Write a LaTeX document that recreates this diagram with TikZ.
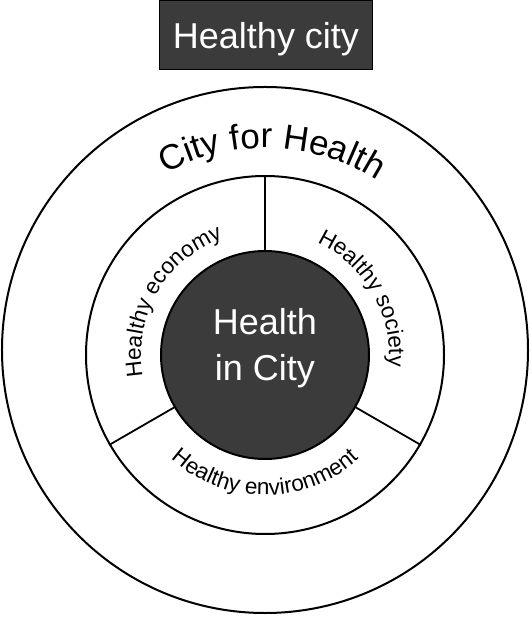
\documentclass[tikz,border=0pt]{standalone}
\usepackage{fontspec}
\setmainfont{Liberation Sans}
\usetikzlibrary{decorations.text}
\newcommand{\arclabel}{\fontsize{22.5}{26}\selectfont}
\newcommand{\ringlabel}{\fontsize{35}{40}\selectfont}

\begin{document}
\begin{tikzpicture}[x=1pt,y=1pt,
	disc/.style={circle, draw, line width=2pt, inner sep=0pt},
	darkbox/.style={fill=black!77, text=white, font=\fontsize{36}{46}\selectfont},
	divider/.style={line width=1.8pt},
	arctext/.style={decorate, decoration={text along path, text align=center, text={#1}}}]
	\useasboundingbox (-265,-262) rectangle (266,355);

	\node[darkbox, draw=black, line width=1pt, minimum width=212pt, minimum height=69pt, inner sep=0pt, text depth=0pt](title) at (1,319.5) {Healthy city};

	\node[disc, minimum size=526pt](outer) at (0,5) {};
	\node[disc, minimum size=358pt](ring) at (0,0) {};
	\node[disc, darkbox, minimum size=208pt](hub) at (0,0) {};
	\node[text=white, font=\fontsize{36}{46}\selectfont, align=center](hubtext) at (0,7) {Health\\in City};

	\draw[divider](hub.90) -- (ring.90);
	\draw[divider](hub.210) -- (ring.210);
	\draw[divider](hub.330) -- (ring.330);

	\path[arctext={|\ringlabel|City for Health}] (148:207) arc[start angle=148, end angle=28, radius=207];
	\path[arctext={|\arclabel|Healthy economy}] (210:124) arc[start angle=210, end angle=90, radius=124];
	\path[arctext={|\arclabel|Healthy society}] (90:124) arc[start angle=90, end angle=-30, radius=124];
	\path[arctext={|\arclabel|Healthy environment}] (210:140) arc[start angle=210, end angle=330, radius=140];
\end{tikzpicture}
\end{document}
